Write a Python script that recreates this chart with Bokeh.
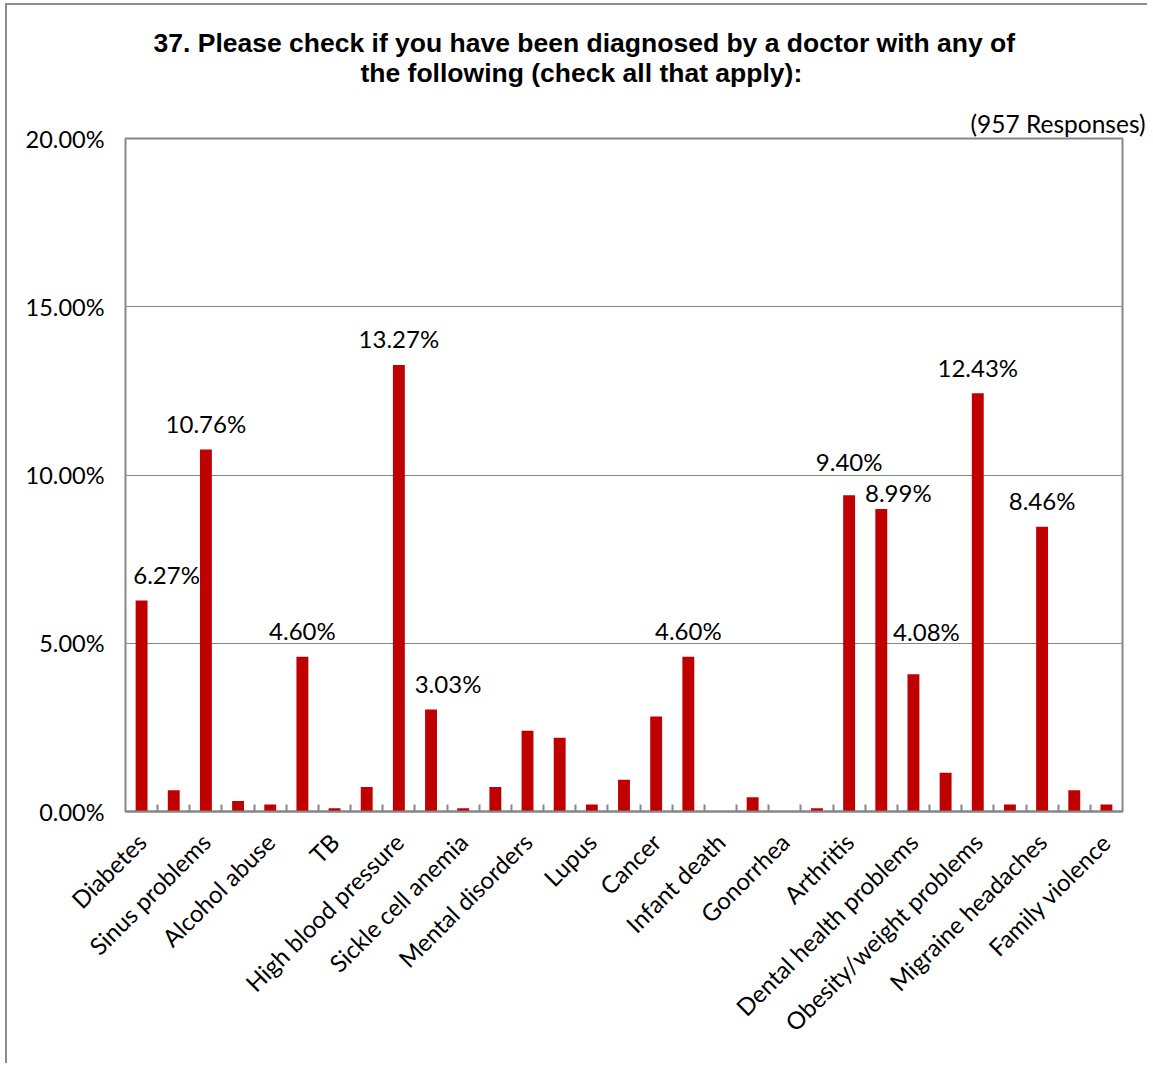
import math
from bokeh.plotting import figure
from bokeh.models import ColumnDataSource, FixedTicker, PrintfTickFormatter, Title
from bokeh.embed import file_html
from bokeh.resources import INLINE
from bokeh.core.properties import value

# ---- data ----
categories = ["Diabetes", "", "Sinus problems", "", "Alcohol abuse", "", "TB", "",
              "High blood pressure", "", "Sickle cell anemia", "", "Mental disorders", "",
              "Lupus", "", "Cancer", "", "Infant death", "", "Gonorrhea", "", "Arthritis", "",
              "Dental health problems", "", "Obesity/weight problems", "", "Migraine headaches", "",
              "Family violence"]
percent = [6.27, 0.63, 10.76, 0.31, 0.21, 4.60, 0.10, 0.73, 13.27, 3.03, 0.10, 0.73, 2.40, 2.19,
           0.21, 0.94, 2.82, 4.60, 0.00, 0.42, 0.00, 0.10, 9.40, 8.99, 4.08, 1.15, 12.43, 0.21,
           8.46, 0.63, 0.21]
y_ticks = [0, 5, 10, 15, 20]
title_line1 = "37.  Please check if you have been diagnosed by a doctor  with any of"
title_line2 = "the following (check all that apply):"
responses_note = "(957 Responses)"

# label nudges in pixels (dx right, dy down)
label_nudge = {0: (25, 0), 9: (17, 0), 22: (0, -8), 23: (17, 10), 24: (13, -17)}

BAR = "#C00000"
GRAY = "#868686"
FONT = "Lato"
TFONT = "Liberation Sans"

idx = list(range(len(percent)))
src = ColumnDataSource(dict(x=idx, top=percent))

lab_x, lab_y, lab_t, lab_dx, lab_dy = [], [], [], [], []
for i, v in enumerate(percent):
    if v >= 3:
        dx, dy = label_nudge.get(i, (0, 0))
        lab_x.append(i)
        lab_y.append(v)
        lab_t.append(f"{v:.2f}%")
        lab_dx.append(dx)
        lab_dy.append(-26 + dy)
lsrc = ColumnDataSource(dict(x=lab_x, y=lab_y, text=lab_t, dx=lab_dx, dy=lab_dy))

p = figure(frame_width=997, frame_height=673, x_range=(-0.5, len(percent) - 0.5), y_range=(0, 20),
           output_backend="svg", toolbar_location=None, title=None,
           min_border_left=118, min_border_right=25, min_border_bottom=252, min_border_top=0)
p.styles = {"border-left": "2px solid #8c8c8c", "border-top": "2px solid #8c8c8c",
            "margin-left": "5px", "margin-top": "3px"}

# title stack (first added = closest to the frame)
p.add_layout(Title(text=responses_note, align="right", offset=-23, vertical_align="bottom",
                   standoff=1, text_font=FONT, text_font_style="normal",
                   text_font_size="24.5px", text_color="black"), "above")
p.add_layout(Title(text=" ", text_font_size="2px", standoff=12.5), "above")
p.add_layout(Title(text=title_line2, align="left", offset=235, vertical_align="top",
                   standoff=0, text_font=TFONT, text_font_style="bold",
                   text_font_size="26.5px", text_color="black"), "above")
p.add_layout(Title(text=title_line1, align="left", offset=28, vertical_align="bottom",
                   standoff=0, text_font=TFONT, text_font_style="bold",
                   text_font_size="26.5px", text_color="black"), "above")
p.add_layout(Title(text=" ", text_font_size="2px", standoff=15.3), "above")

p.vbar(x="x", top="top", width=0.37, bottom=0, source=src, fill_color=BAR, line_color=None)
p.text(x="x", y="y", text="text", x_offset="dx", y_offset="dy", source=lsrc,
       text_font=value(FONT), text_font_size="24px", text_align="center",
       text_baseline="middle", text_color="black")

p.outline_line_color = GRAY
p.outline_line_width = 2
p.background_fill_color = "white"
p.border_fill_color = "white"

xa = p.xaxis[0]
xa.ticker = FixedTicker(ticks=list(range(0, len(percent), 2)),
                        minor_ticks=[i + 0.5 for i in range(len(percent) - 1)])
xa.major_label_overrides = {i: categories[i] for i in range(0, len(percent), 2)}
xa.major_label_orientation = math.pi / 4
xa.major_tick_line_color = None
xa.minor_tick_in = 7
xa.minor_tick_out = 0
xa.minor_tick_line_color = GRAY
xa.minor_tick_line_width = 2
xa.axis_line_color = GRAY
xa.axis_line_width = 2
xa.major_label_text_font = FONT
xa.major_label_text_font_size = "24px"
xa.major_label_text_color = "black"
xa.major_label_standoff = 20

ya = p.yaxis[0]
ya.ticker = FixedTicker(ticks=y_ticks)
ya.formatter = PrintfTickFormatter(format="%.2f%%")
ya.major_tick_in = 0
ya.major_tick_out = 0
ya.minor_tick_line_color = None
ya.axis_line_color = None
ya.major_label_text_font = FONT
ya.major_label_text_font_size = "23.5px"
ya.major_label_text_color = "black"
ya.major_label_standoff = 21

p.xgrid.visible = False
p.ygrid.ticker = FixedTicker(ticks=y_ticks)
p.ygrid.grid_line_color = GRAY
p.ygrid.grid_line_width = 1

open("out.html", "w").write(file_html(p, INLINE))
